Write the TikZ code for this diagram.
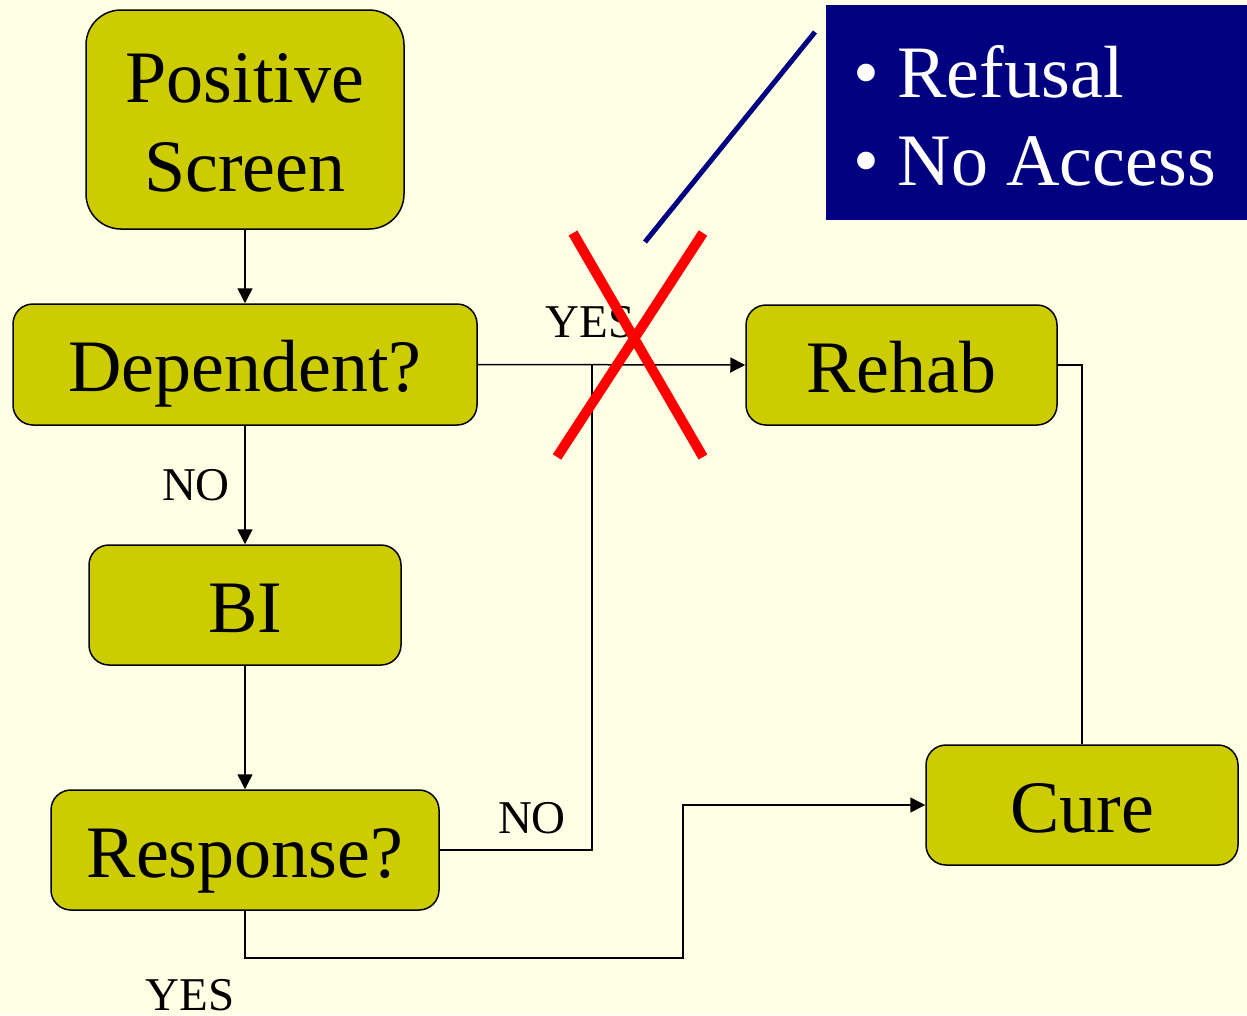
\documentclass[tikz,border=0pt]{standalone}
\usepackage{fontspec}
\setmainfont{Liberation Serif}
\usetikzlibrary{arrows.meta}
\definecolor{bg}{RGB}{255,255,230}
\definecolor{boxfill}{RGB}{204,204,0}
\definecolor{navyc}{RGB}{0,0,128}
\definecolor{redx}{RGB}{255,0,0}
\tikzset{
  flowbox/.style={draw=black, line width=1.5pt, fill=boxfill, rounded corners=20pt,
    font=\fontsize{74}{89}\selectfont, align=center, inner sep=0pt},
  onebox/.style={flowbox, text height=54pt, text depth=0pt},
  conn/.style={line width=1.5pt, draw=black},
  arr/.style={conn, -{Triangle[length=15pt,width=15pt]}},
  lbl/.style={font=\fontsize{47}{56}\selectfont, inner sep=0pt},
  crossline/.style={draw=redx, line width=10pt},
}
\begin{document}
\begin{tikzpicture}[x=1pt,y=-1pt]
\fill[bg] (0,0) rectangle (1247,1015);
\useasboundingbox (0,0) rectangle (1247,1015);

\node[flowbox, rounded corners=35pt, minimum width=318pt, minimum height=219pt] (ps) at (245,119.5) {};
\node[font=\fontsize{74}{89}\selectfont, align=center, inner sep=0pt, anchor=base] (pstext) at (245,191) {Positive\\Screen};
\node[onebox, minimum width=464pt, minimum height=121pt] (dep) at (245,364.5) {Dependent?};
\node[onebox, minimum width=312pt, minimum height=120pt] (bi) at (245,605) {BI};
\node[onebox, minimum width=388pt, minimum height=120pt] (resp) at (245,850) {Response?};
\node[onebox, minimum width=311pt, minimum height=120pt] (rehab) at (901.5,365) {Rehab};
\node[onebox, minimum width=312pt, minimum height=120pt] (cure) at (1082,805) {Cure};

\coordinate (j) at (592,365);
\coordinate (b1) at (683,958);

\draw[arr] (ps.south) -- (dep.north);
\draw[arr] (dep.east) -- (rehab.west);
\draw[arr] (dep.south) -- (bi.north);
\draw[arr] (bi.south) -- (resp.north);
\draw[conn] (resp.east) -| (j);
\draw[arr] (resp.south) |- (b1) |- (cure.west);
\draw[conn] (rehab.east) -| (cure.north);

\node[lbl, anchor=base] (yes1) at (590,337) {YES};
\node[lbl, anchor=base] (no1) at (196,500) {NO};
\node[lbl, anchor=base] (no2) at (532,833) {NO};
\node[lbl, anchor=base] (yes2) at (190,1010) {YES};

\node[fill=navyc, minimum width=421pt, minimum height=215pt, inner sep=0pt] (note) at (1036.5,112.5) {};
\node[anchor=base west, text=white, font=\fontsize{74}{88}\selectfont, inner sep=0pt] (r1) at (853,97) {\textbullet\ Refusal};
\node[anchor=base west, text=white, font=\fontsize{74}{88}\selectfont, inner sep=0pt] (r2) at (853,185) {\textbullet\ No Access};
\coordinate (lt) at (815,32);
\coordinate (lb) at (645,242);
\draw[navyc, line width=5pt] (lt) -- (lb);

\coordinate (x1) at (573,233);
\coordinate (x2) at (703,457);
\coordinate (x3) at (703,233);
\coordinate (x4) at (557,457);
\draw[crossline] (x1) -- (x2);
\draw[crossline] (x3) -- (x4);
\end{tikzpicture}
\end{document}
